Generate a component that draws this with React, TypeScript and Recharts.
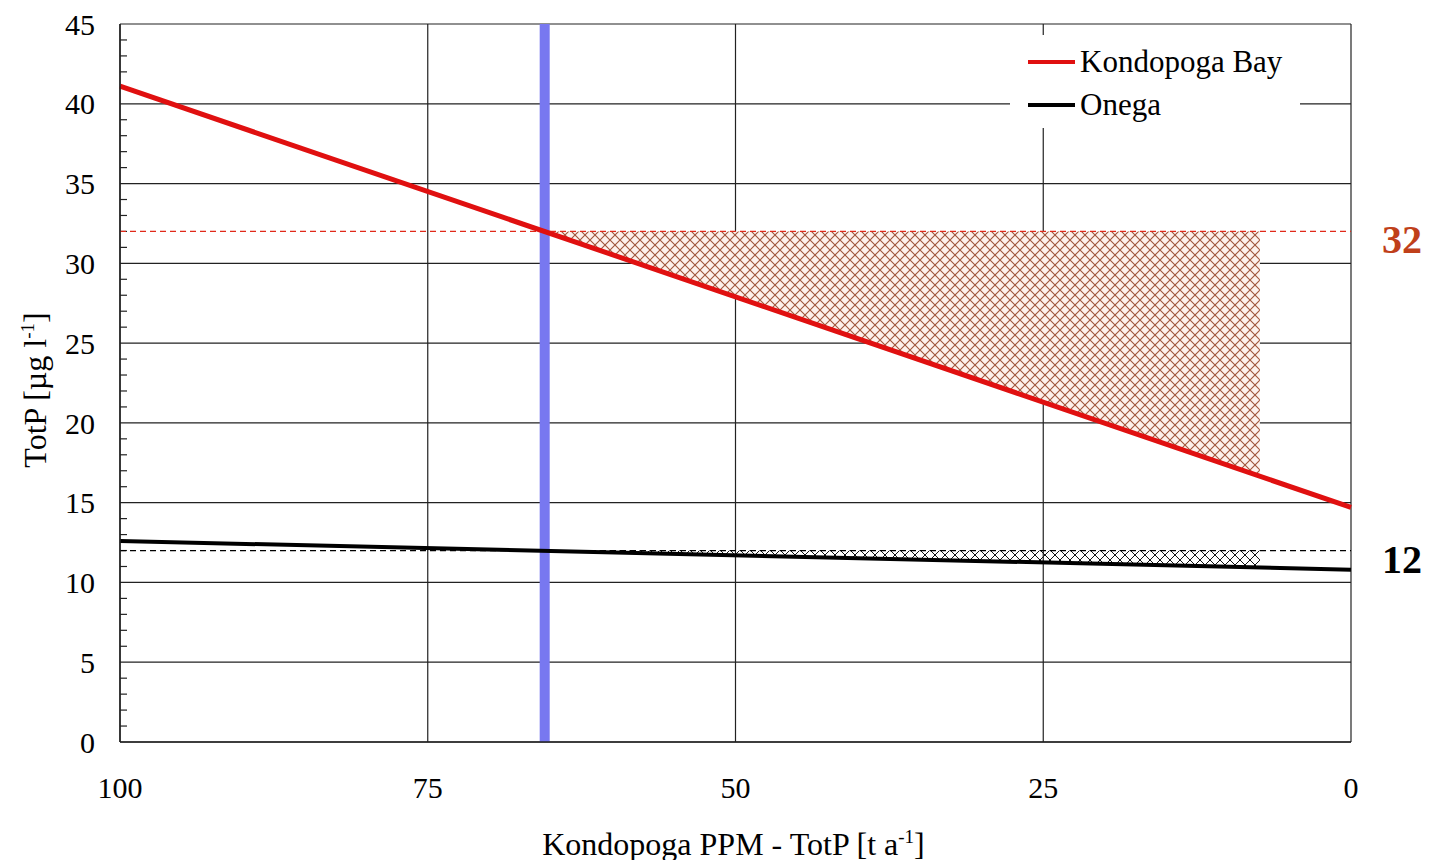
import React from 'react';
import {
  Area,
  CartesianGrid,
  ComposedChart,
  Legend,
  Line,
  ReferenceLine,
  XAxis,
  YAxis,
} from 'recharts';

// x axis runs from 100 down to 0 t/a
const xTicks = [100, 75, 50, 25, 0];
const yTicks = [0, 5, 10, 15, 20, 25, 30, 35, 40, 45];
const yMinorTicks = [
  1, 2, 3, 4, 6, 7, 8, 9, 11, 12, 13, 14, 16, 17, 18, 19, 21, 22, 23, 24,
  26, 27, 28, 29, 31, 32, 33, 34, 36, 37, 38, 39, 41, 42, 43, 44,
];

const kondopogaLoad = [100, 0];
const kondopogaTotP = [41.1, 14.7];
const onegaLoad = [100, 0];
const onegaTotP = [12.6, 10.8];

// hatched zones between the limits and the lines
const hatchLoad = [65.5, 7.4];
const bayHatchLow = [32, 16.6];
const bayHatchHigh = [32, 32];
const onegaHatchLow = [12, 10.93];
const onegaHatchHigh = [12, 12];

const targetLoad = 65.5;
const bayLimit = 32;
const onegaLimit = 12;

const legendItems = [
  { name: 'Kondopoga Bay', color: '#e01010' },
  { name: 'Onega', color: '#000000' },
];

const kondopogaData = kondopogaLoad.map((x, i) => ({ x, y: kondopogaTotP[i] }));
const onegaData = onegaLoad.map((x, i) => ({ x, y: onegaTotP[i] }));
const bayHatchData = hatchLoad.map((x, i) => ({ x, range: [bayHatchLow[i], bayHatchHigh[i]] }));
const onegaHatchData = hatchLoad.map((x, i) => ({ x, range: [onegaHatchLow[i], onegaHatchHigh[i]] }));

const font = '"Liberation Serif", "Times New Roman", serif';
const gridColor = '#222';
const minorTickLen = 0.57; // in x units, ~7px

const renderLegend = () => (
  <div style={{ width: 290, height: 93, background: '#fff', position: 'relative', fontFamily: font }}>
    {legendItems.map((item, i) => (
      <div
        key={item.name}
        style={{ position: 'absolute', left: 18, top: 10 + i * 43, height: 34, display: 'flex', alignItems: 'center' }}
      >
        <div style={{ width: 47, height: 4, background: item.color }} />
        <span style={{ marginLeft: 5, fontSize: 31, color: '#000', lineHeight: '34px' }}>{item.name}</span>
      </div>
    ))}
  </div>
);

const XTitle = (props: any) => {
  const vb = props.viewBox;
  const cx = vb.x + vb.width / 2;
  return (
    <text x={cx - 2} y={855} textAnchor="middle" fontFamily={font} fontSize={32} fill="#000">
      Kondopoga PPM - TotP [t a
      <tspan dy={-12} fontSize={19}>-1</tspan>
      <tspan dy={12}>]</tspan>
    </text>
  );
};

const YTitle = () => (
  <text x={0} y={0} transform="translate(46,390) rotate(-90)" textAnchor="middle" fontFamily={font} fontSize={32} fill="#000">
    TotP [µg l
    <tspan dy={-12} fontSize={19}>-1</tspan>
    <tspan dy={12}>]</tspan>
  </text>
);

export default function App() {
  return (
    <div style={{ margin: -8, width: 1432, height: 868, background: '#fff', fontFamily: font }}>
      <ComposedChart width={1432} height={868} margin={{ top: 24, right: 81, left: 0, bottom: 0 }}>
        <defs>
          <pattern id="bayHatch" width="10" height="10" patternUnits="userSpaceOnUse">
            <rect width="10" height="10" fill="#fdf1ec" />
            <path d="M0,0 L10,10 M10,0 L0,10" stroke="#a0553a" strokeWidth="1.1" />
          </pattern>
          <pattern id="onegaHatch" width="10" height="10" patternUnits="userSpaceOnUse">
            <path d="M0,0 L10,10 M10,0 L0,10" stroke="#111" strokeWidth="1" />
          </pattern>
        </defs>
        <CartesianGrid stroke={gridColor} strokeWidth={1.2} />
        <XAxis
          dataKey="x"
          type="number"
          domain={[0, 100]}
          reversed
          ticks={xTicks}
          interval={0}
          height={126}
          axisLine={{ stroke: gridColor, strokeWidth: 1.5 }}
          tickLine={false}
          tickMargin={29}
          tick={{ fill: '#000', fontSize: 30, fontFamily: font }}
          label={<XTitle />}
        />
        <YAxis
          type="number"
          domain={[0, 45]}
          ticks={yTicks}
          interval={0}
          width={120}
          axisLine={{ stroke: gridColor, strokeWidth: 1.5 }}
          tickLine={false}
          tickMargin={19}
          tick={{ fill: '#000', fontSize: 30, fontFamily: font }}
          label={<YTitle />}
        />
        {yMinorTicks.map((v) => (
          <ReferenceLine
            key={v}
            segment={[
              { x: 100, y: v },
              { x: 100 - minorTickLen, y: v },
            ]}
            stroke={gridColor}
            strokeWidth={1.2}
          />
        ))}
        <Area
          data={bayHatchData}
          dataKey="range"
          type="linear"
          stroke="none"
          fill="url(#bayHatch)"
          fillOpacity={1}
          legendType="none"
          isAnimationActive={false}
        />
        <Area
          data={onegaHatchData}
          dataKey="range"
          type="linear"
          stroke="none"
          fill="url(#onegaHatch)"
          fillOpacity={1}
          legendType="none"
          isAnimationActive={false}
        />
        <ReferenceLine
          y={bayLimit}
          stroke="#e02a1a"
          strokeWidth={1.3}
          strokeDasharray="6 4"
          label={{ value: '32', position: 'right', offset: 31, dy: 7, fill: '#c0401a', fontSize: 40, fontWeight: 'bold', fontFamily: font }}
        />
        <ReferenceLine
          y={onegaLimit}
          stroke="#000"
          strokeWidth={1.2}
          strokeDasharray="6 4"
          label={{ value: '12', position: 'right', offset: 31, dy: 8, fill: '#000', fontSize: 40, fontWeight: 'bold', fontFamily: font }}
        />
        <ReferenceLine x={targetLoad} stroke="#7878f0" strokeWidth={10} />
        <Line
          data={onegaData}
          dataKey="y"
          name="Onega"
          type="linear"
          stroke="#000"
          strokeWidth={4}
          dot={false}
          isAnimationActive={false}
        />
        <Line
          data={kondopogaData}
          dataKey="y"
          name="Kondopoga Bay"
          type="linear"
          stroke="#e01010"
          strokeWidth={5}
          dot={false}
          isAnimationActive={false}
        />
        <Legend
          layout="vertical"
          align="center"
          verticalAlign="middle"
          content={renderLegend}
          wrapperStyle={{ position: 'absolute', left: 1010, top: 35, width: 290, height: 93 }}
        />
      </ComposedChart>
    </div>
  );
}
